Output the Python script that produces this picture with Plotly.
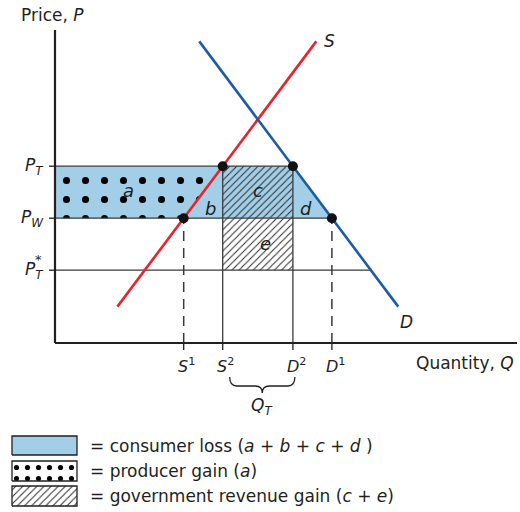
import plotly.graph_objects as go

# Quantities on the horizontal axis
q_s1, q_s2, q_d2, q_d1 = 3.3, 4.3, 6.1, 7.1
q_labels = ["<i>S</i><sup>1</sup>", "<i>S</i><sup>2</sup>", "<i>D</i><sup>2</sup>", "<i>D</i><sup>1</sup>"]

# Prices on the vertical axis
p_star, p_w, p_t = 1.4, 2.4, 3.4

# Supply and demand curves (end points)
supply_q = [1.6, 6.7]
supply_p = [0.7, 5.8]
demand_q = [3.7, 8.8]
demand_p = [5.8, 0.7]

# Legend entries
legend_text = [
    "= consumer loss (<i>a</i> + <i>b</i> + <i>c</i> + <i>d</i> )",
    "= producer gain (<i>a</i>)",
    "= government revenue gain (<i>c</i> + <i>e</i>)",
]

FONT = "DejaVu Sans, Liberation Sans, sans-serif"
INK = "#231f20"
GRAY = "#3a3a3a"
BLUE_FILL = "#a2cfe7"
RED = "#e8232b"
BLUE = "#1a5ca8"

# px -> data helpers (x: 39 px per unit from x=55, y: 52 px per unit from y=343)
def dx(px):
    return (px - 55) / 39

def dy(py):
    return (343 - py) / 52

DOTS = dict(shape=".", size=19, solidity=0.11, fgcolor="#000", fgopacity=1,
            bgcolor="rgba(0,0,0,0)")
HATCH = dict(shape="/", size=5, solidity=0.2, fgcolor="#2a2a2a", fgopacity=1,
             bgcolor="rgba(0,0,0,0)")

fig = go.Figure()

# consumer loss trapezoid a+b+c+d
fig.add_trace(go.Scatter(
    x=[0, 0, q_d2, q_d1, 0], y=[p_w, p_t, p_t, p_w, p_w],
    fill="toself", fillcolor=BLUE_FILL, mode="lines", line=dict(width=0),
    hoverinfo="skip"))

# producer gain a (dots)
fig.add_trace(go.Scatter(
    x=[0, 0, q_s2, q_s1, 0], y=[p_w, p_t, p_t, p_w, p_w],
    fill="toself", fillcolor="#000", mode="lines", line=dict(width=0),
    fillpattern=DOTS, hoverinfo="skip"))

# government revenue c+e (hatch)
fig.add_trace(go.Scatter(
    x=[q_s2, q_s2, q_d2, q_d2, q_s2], y=[p_star, p_t, p_t, p_star, p_star],
    fill="toself", fillcolor="#000", mode="lines", line=dict(width=0),
    fillpattern=HATCH, hoverinfo="skip"))

# guide lines
guide = dict(color=GRAY, width=1.3)
fig.add_trace(go.Scatter(x=[0, q_d2], y=[p_t, p_t], mode="lines", line=guide, hoverinfo="skip"))
fig.add_trace(go.Scatter(x=[0, q_d1], y=[p_w, p_w], mode="lines", line=guide, hoverinfo="skip"))
fig.add_trace(go.Scatter(x=[0, 9.5 - p_star], y=[p_star, p_star], mode="lines", line=guide, hoverinfo="skip"))
for q in (q_s2, q_d2):
    fig.add_trace(go.Scatter(x=[q, q], y=[0, p_t], mode="lines", line=guide, hoverinfo="skip"))
for q in (q_s1, q_d1):
    fig.add_trace(go.Scatter(x=[q, q], y=[0, p_w], mode="lines",
                             line=dict(color=GRAY, width=1.5, dash="10px,7px"), hoverinfo="skip"))

# supply and demand
fig.add_trace(go.Scatter(x=supply_q, y=supply_p, mode="lines", line=dict(color=RED, width=2.6), hoverinfo="skip"))
fig.add_trace(go.Scatter(x=demand_q, y=demand_p, mode="lines", line=dict(color=BLUE, width=2.6), hoverinfo="skip"))

# intersection points
fig.add_trace(go.Scatter(x=[q_s1, q_s2, q_d2, q_d1], y=[p_w, p_t, p_t, p_w], mode="markers",
                         marker=dict(color="#111", size=10), hoverinfo="skip"))

# axes
ax = dict(color=INK, width=2.2)
fig.add_shape(type="line", x0=0, y0=0, x1=0, y1=dy(30), line=ax)
fig.add_shape(type="line", x0=0, y0=0, x1=dx(517), y1=0, line=ax)
for p in (p_star, p_w, p_t):
    fig.add_shape(type="line", x0=dx(49), x1=0, y0=p, y1=p, line=dict(color=INK, width=1.3))
for q in (q_s1, q_s2, q_d2, q_d1):
    fig.add_shape(type="line", x0=q, x1=q, y0=0, y1=dy(350), line=dict(color=INK, width=1.3))

# brace under S2..D2
x0, x1 = q_s2 + 0.18, q_d2 + 0.05
xm = (x0 + x1) / 2
yt, ym, yb = dy(377), dy(386), dy(393)
r = 0.18
fig.add_shape(type="path", line=dict(color=INK, width=1.3),
              path=(f"M {x0},{yt} Q {x0},{ym} {x0 + r},{ym} L {xm - r},{ym} "
                    f"Q {xm},{ym} {xm},{yb} Q {xm},{ym} {xm + r},{ym} "
                    f"L {x1 - r},{ym} Q {x1},{ym} {x1},{yt}"))

def label(x, y, text, size=17, xanchor="center", color=INK):
    fig.add_annotation(x=x, y=y, text=text, showarrow=False, xanchor=xanchor,
                       yanchor="middle", font=dict(family=FONT, size=size, color=color))

label(dx(19), dy(15), "Price, <i>P</i>", xanchor="left")
label(dx(414), dy(363), "Quantity, <i>Q</i>", xanchor="left")
label(dx(322), dy(41), "<i>S</i>", xanchor="left")
label(dx(398), dy(322), "<i>D</i>", xanchor="left")
for q, t in zip((q_s1, q_s2, q_d2, q_d1), q_labels):
    label(q + 0.08, dy(365), t, size=16)
label(xm, dy(406), "<i>Q</i><sub><i>T</i></sub>", size=17)

label(dx(46), p_t, "<i>P</i><sub><i>T</i></sub>", xanchor="right")
label(dx(46), p_w, "<i>P</i><sub><i>W</i></sub>", xanchor="right")
label(dx(46), p_star, "<i>P</i><sub><i>T</i></sub>", xanchor="right")
label(dx(38), dy(259), "*", size=13)

label(dx(128), dy(190), "<i>a</i>", size=18)
label(dx(210), dy(208), "<i>b</i>", size=18)
label(dx(258), dy(190), "<i>c</i>", size=18)
label(dx(306), dy(208), "<i>d</i>", size=18)
label(dx(265), dy(243), "<i>e</i>", size=18)

# legend swatches
rows = [(436, 455), (461, 481), (486, 506)]
patterns = [None, dict(DOTS, size=11, solidity=0.17, bgcolor="white"), dict(HATCH, bgcolor="white")]
fills = [BLUE_FILL, "#000", "#000"]
for (top, bot), pat, fc, txt in zip(rows, patterns, fills, legend_text):
    xa, xb = dx(12), dx(77)
    ya, yb2 = dy(top), dy(bot)
    tr = go.Scatter(x=[xa, xa, xb, xb, xa], y=[yb2, ya, ya, yb2, yb2], fill="toself",
                    fillcolor=fc, mode="lines", line=dict(color=INK, width=1.3), hoverinfo="skip")
    if pat:
        tr.fillpattern = pat
    fig.add_trace(tr)
    label(dx(88), (ya + yb2) / 2, txt, xanchor="left")

fig.update_xaxes(range=[dx(0), dx(520)], visible=False, fixedrange=True)
fig.update_yaxes(range=[dy(512), dy(0)], visible=False, fixedrange=True)
fig.update_layout(width=520, height=512, margin=dict(l=0, r=0, t=0, b=0),
                  paper_bgcolor="white", plot_bgcolor="white", showlegend=False,
                  font=dict(family=FONT, color=INK))

fig.write_html("out.html", config={"displayModeBar": False},
               post_script="document.body.style.margin='0';")
